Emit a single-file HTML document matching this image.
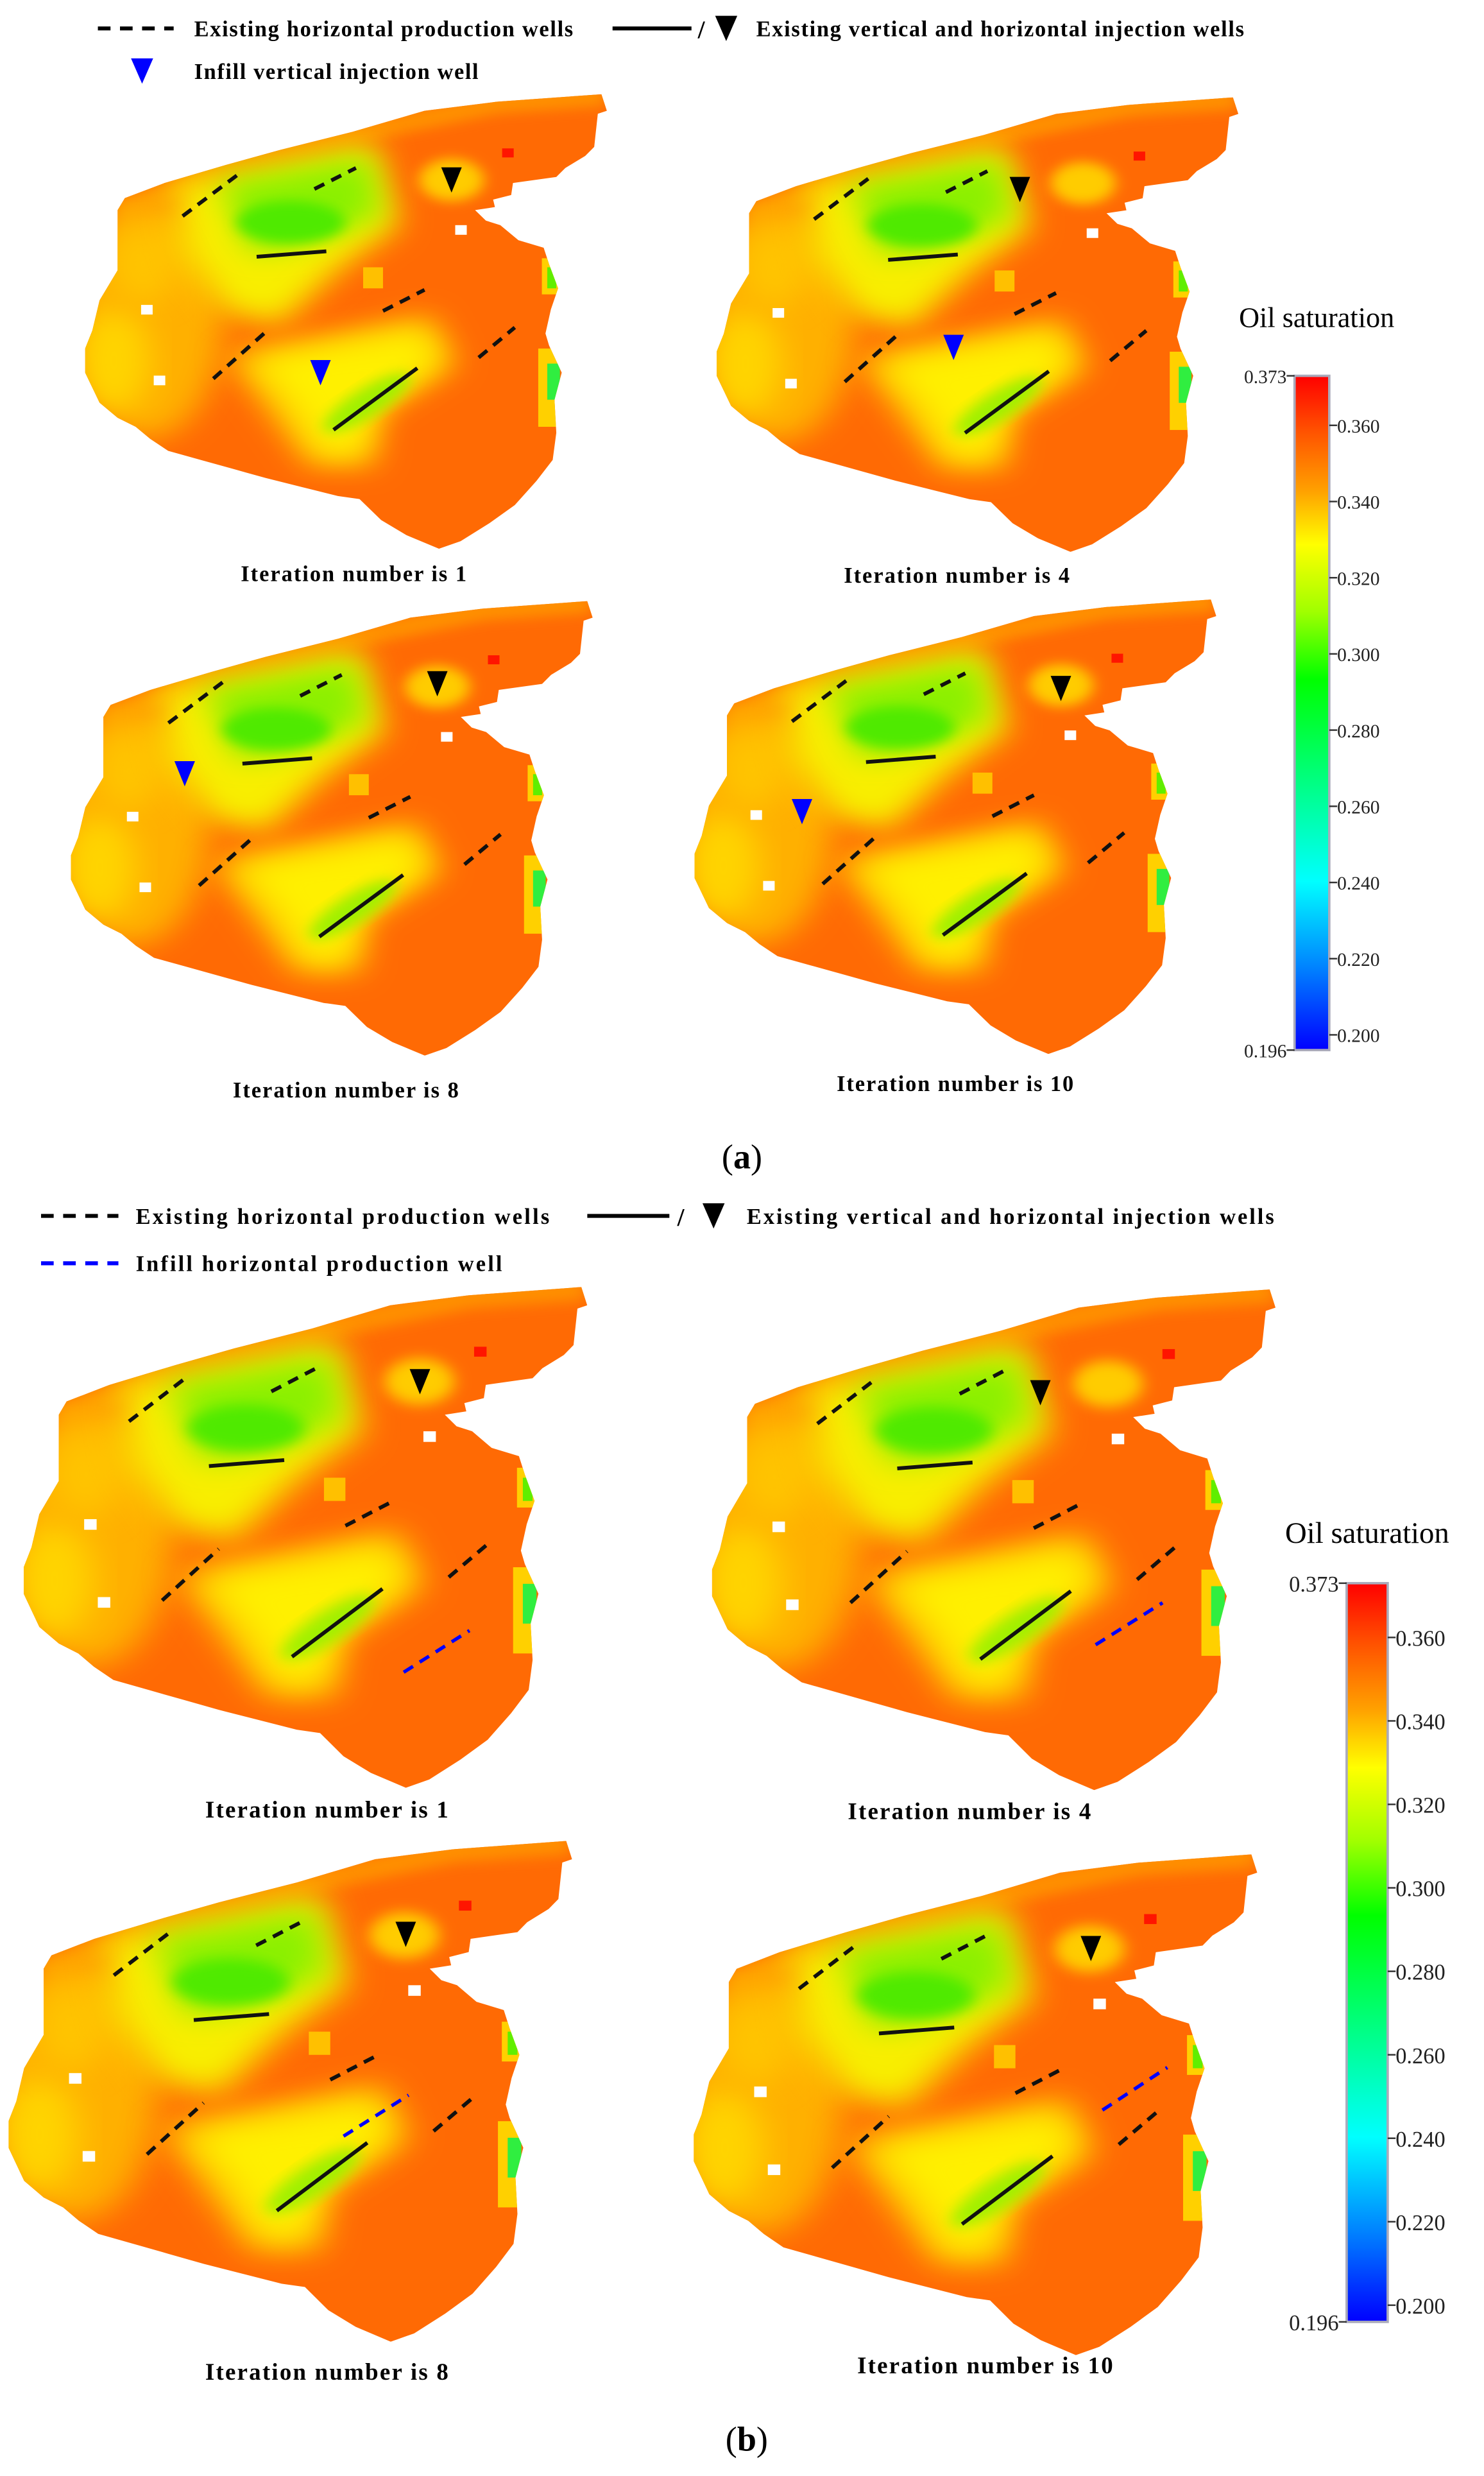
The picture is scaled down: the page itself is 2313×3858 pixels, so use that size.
<!DOCTYPE html>
<html><head><meta charset="utf-8">
<style>
html,body{margin:0;padding:0;background:#fff;}
svg{display:block;}
text{font-family:"Liberation Serif",serif;}
</style></head>
<body>
<svg id="fig" xmlns="http://www.w3.org/2000/svg" width="2313" height="3858" viewBox="0 0 940 1568" preserveAspectRatio="none">
<defs>
  <clipPath id="fieldClip">
    <polygon points="1490,35 1505,90 1480,100 1470,210 1445,240 1390,280 1365,310 1245,330 1240,370 1190,385 1195,410 1140,420 1170,455 1210,470 1260,520 1330,545 1345,600 1370,680 1350,750 1335,830 1345,870 1380,960 1360,1050 1365,1160 1355,1250 1310,1320 1250,1400 1180,1460 1100,1520 1040,1545 950,1500 880,1450 820,1380 760,1370 660,1340 560,1310 470,1280 380,1250 290,1220 240,1180 200,1140 150,1110 100,1060 60,960 60,880 80,820 100,720 150,620 150,420 170,380 280,330 450,270 600,220 800,160 1000,90 1200,60"/>
  </clipPath>
  <filter id="blur" x="-30%" y="-30%" width="160%" height="160%"><feGaussianBlur stdDeviation="45"/></filter>
  <filter id="blur2" x="-30%" y="-30%" width="160%" height="160%"><feGaussianBlur stdDeviation="20"/></filter>
  <g id="field">
    <g clip-path="url(#fieldClip)">
      <rect x="0" y="0" width="1600" height="1600" fill="#ff6a04"/>
      <path d="M150,430 L450,275 L800,165 L1200,65 L1500,40" fill="none" stroke="#ff9000" stroke-width="70" filter="url(#blur2)"/>
      <ellipse cx="230" cy="780" rx="210" ry="400" fill="#ffb000" filter="url(#blur)"/>
      <ellipse cx="140" cy="920" rx="100" ry="170" fill="#ffd400" filter="url(#blur)"/>
      <ellipse cx="220" cy="600" rx="90" ry="130" fill="#ffc400" filter="url(#blur)"/>
      <polygon points="300,330 860,190 930,470 760,620 600,800 450,760 330,560" fill="#f8ee00" filter="url(#blur)"/>
      <polygon points="430,330 850,240 880,440 640,540 520,560" fill="#8cf000" filter="url(#blur)"/>
      <ellipse cx="630" cy="460" rx="150" ry="70" fill="#50ea00" filter="url(#blur2)"/>
      <ellipse cx="1075" cy="320" rx="90" ry="70" fill="#ffcc00" filter="url(#blur2)"/>
      <polygon points="450,900 1020,770 1090,930 880,1090 860,1270 680,1270 550,1060" fill="#ffc800" filter="url(#blur)"/>
      <polygon points="520,920 990,820 1040,930 860,1070 820,1230 720,1230 620,1040" fill="#fff000" filter="url(#blur)"/>
      <ellipse cx="840" cy="1060" rx="150" ry="45" transform="rotate(-38 840 1060)" fill="#a0f000" filter="url(#blur2)"/>
      <rect x="1325" y="580" width="45" height="120" fill="#ffd000"/>
      <rect x="1340" y="610" width="25" height="70" fill="#60ee00"/>
      <rect x="1315" y="880" width="55" height="260" fill="#ffd000"/>
      <rect x="1340" y="930" width="35" height="120" fill="#30ee40"/>
      <rect x="830" y="610" width="55" height="70" fill="#ffc000"/>
      <rect x="215" y="735" width="32" height="32" fill="#fff"/>
      <rect x="250" y="970" width="32" height="32" fill="#fff"/>
      <rect x="1085" y="470" width="32" height="32" fill="#fff"/>
      <rect x="1215" y="215" width="32" height="30" fill="#ff1500"/>
    </g>
  </g>
  <linearGradient id="cbGrad" x1="0" y1="0" x2="0" y2="1">
    <stop offset="0" stop-color="#ff0000"/>
    <stop offset="0.08" stop-color="#ff5000"/>
    <stop offset="0.17" stop-color="#ffa000"/>
    <stop offset="0.25" stop-color="#ffff00"/>
    <stop offset="0.35" stop-color="#a0ff00"/>
    <stop offset="0.45" stop-color="#00ff00"/>
    <stop offset="0.6" stop-color="#00ff80"/>
    <stop offset="0.75" stop-color="#00ffff"/>
    <stop offset="0.88" stop-color="#0080ff"/>
    <stop offset="1" stop-color="#0000ff"/>
  </linearGradient>
</defs>

<g>
  <line x1="62" y1="18" x2="110" y2="18" stroke="#000" stroke-width="2.5" stroke-dasharray="8,6"/>
  <text x="123" y="23" font-size="14" font-weight="bold" textLength="240">Existing horizontal production wells</text>
  <line x1="388" y1="18" x2="438" y2="18" stroke="#000" stroke-width="2.5"/>
  <text x="442" y="24" font-size="16" font-weight="bold">/</text>
  <polygon points="453,10 467,10 460,26" fill="#000"/>
  <text x="479" y="23" font-size="14" font-weight="bold" textLength="309">Existing vertical and horizontal injection wells</text>
  <polygon points="83,37 97,37 90,53" fill="#0000ff"/>
  <text x="123" y="50" font-size="14" font-weight="bold" textLength="180">Infill vertical injection well</text>
</g>

<g>
  <line x1="26" y1="770" x2="75" y2="770" stroke="#000" stroke-width="2.5" stroke-dasharray="8,6"/>
  <text x="86" y="775" font-size="14" font-weight="bold" textLength="262">Existing horizontal production wells</text>
  <line x1="372" y1="770" x2="424" y2="770" stroke="#000" stroke-width="2.5"/>
  <text x="429" y="776" font-size="16" font-weight="bold">/</text>
  <polygon points="445,762 459,762 452,778" fill="#000"/>
  <text x="473" y="775" font-size="14" font-weight="bold" textLength="334">Existing vertical and horizontal injection wells</text>
  <line x1="26" y1="800" x2="75" y2="800" stroke="#0000ff" stroke-width="2.5" stroke-dasharray="8,6"/>
  <text x="86" y="805" font-size="14" font-weight="bold" textLength="232">Infill horizontal production well</text>
</g>

<g id="maps"></g>

<g font-size="14" font-weight="bold" text-anchor="middle">
  <text x="224" y="368" textLength="143">Iteration number is 1</text>
  <text x="606" y="369" textLength="143">Iteration number is 4</text>
  <text x="219" y="695" textLength="143">Iteration number is 8</text>
  <text x="605" y="691" textLength="150">Iteration number is 10</text>
  <text x="207" y="1151" font-size="15" textLength="154">Iteration number is 1</text>
  <text x="614" y="1152" font-size="15" textLength="154">Iteration number is 4</text>
  <text x="207" y="1507" font-size="15" textLength="154">Iteration number is 8</text>
  <text x="624" y="1503" font-size="15" textLength="162">Iteration number is 10</text>
</g>
<text x="470" y="740" font-size="22" text-anchor="middle">(<tspan font-weight="bold">a</tspan>)</text>
<text x="473" y="1552" font-size="22" text-anchor="middle">(<tspan font-weight="bold">b</tspan>)</text>

<g id="cbars"></g>
</svg>

<script>
const cbTickValues = [0.360, 0.340, 0.320, 0.300, 0.280, 0.260, 0.240, 0.220, 0.200];
const cbTickLabels = ["0.360","0.340","0.320","0.300","0.280","0.260","0.240","0.220","0.200"];
const cbMax = 0.373;
const cbMin = 0.196;
const cbEndLabels = ["0.373","0.196"];

const dashedWells = [[330,440,480,305],[695,350,810,280],[885,755,1000,685],[415,980,560,825],[1150,910,1250,810]];
const solidWells = [[535,575,728,557],[748,1150,980,945]];

const NS = "http://www.w3.org/2000/svg";
function mk(tag, attrs, parent){
  const e = document.createElementNS(NS, tag);
  for (const k in attrs) e.setAttribute(k, attrs[k]);
  parent.appendChild(e);
  return e;
}

const maps = [
  {id:"a1", ox:40.2, oy:53, sx:0.2287, sy:0.1906, black:[286,114], blueTri:[203,236]},
  {id:"a2", ox:440.2, oy:55, sx:0.2287, sy:0.1906, black:[646,120], blueTri:[604,220]},
  {id:"a3", ox:31.2, oy:374, sx:0.2287, sy:0.1906, black:[277,433], blueTri:[117,490]},
  {id:"a4", ox:426.2, oy:373, sx:0.2287, sy:0.1906, black:[672,436], blueTri:[508,514]},
  {id:"b1", ox:0.2, oy:807.7, sx:0.247, sy:0.210, black:[266,875], blueLine:[255.7,1059,297.4,1032.6]},
  {id:"b2", ox:436.2, oy:809.2, sx:0.247, sy:0.210, black:[659,882], blueLine:[694,1041.6,736.4,1015]},
  {id:"b3", ox:-9.4, oy:1158.5, sx:0.247, sy:0.210, black:[257,1225], blueLine:[217.6,1352.8,258.8,1326.8]},
  {id:"b4", ox:424.6, oy:1167, sx:0.247, sy:0.210, black:[691,1234], blueLine:[698.3,1336.3,739.4,1309.3]}
];

const mapsG = document.getElementById("maps");
maps.forEach(m => {
  const g = mk("g", {}, mapsG);
  
  
  const u = mk("use", {href:"#field", transform:`translate(${m.ox},${m.oy}) scale(${m.sx},${m.sy})`}, g);
  
  
  const X = v => m.ox + v*m.sx, Y = v => m.oy + v*m.sy;
  dashedWells.forEach(w => {
    const l = mk("line", {x1:X(w[0]), y1:Y(w[1]), x2:X(w[2]), y2:Y(w[3]), stroke:"#111", "stroke-width":2.4, "stroke-dasharray":"7,5"}, g);
    
    
  });
  solidWells.forEach(w => {
    const l = mk("line", {x1:X(w[0]), y1:Y(w[1]), x2:X(w[2]), y2:Y(w[3]), stroke:"#111", "stroke-width":2.4}, g);
    
    
  });
  const b = m.black;
  const t = mk("polygon", {points:`${b[0]-6.5},${b[1]-8} ${b[0]+6.5},${b[1]-8} ${b[0]},${b[1]+8}`, fill:"#000"}, g);
  
  
  if (m.blueTri){
    const c = m.blueTri;
    const bt = mk("polygon", {points:`${c[0]-6.5},${c[1]-8} ${c[0]+6.5},${c[1]-8} ${c[0]},${c[1]+8}`, fill:"#0000ff"}, g);
    
    
  }
  if (m.blueLine){
    const w = m.blueLine;
    const bl = mk("line", {x1:w[0], y1:w[1], x2:w[2], y2:w[3], stroke:"#0000ff", "stroke-width":2.2, "stroke-dasharray":"7,5"}, g);
    
    
  }
});

const cbars = [
  {id:"a", x:820, w:22, top:238, bot:665, title:[834,207], fs:12, tfs:18},
  {id:"b", x:853, w:26, top:1002.6, bot:1470.4, title:[866,977], fs:14, tfs:19}
];
const cbG = document.getElementById("cbars");
cbars.forEach(c => {
  const g = mk("g", {}, cbG);
  
  
  const yS = v => c.top + (cbMax - v)/(cbMax - cbMin)*(c.bot - c.top);
  const r = mk("rect", {x:c.x, y:c.top, width:c.w, height:c.bot-c.top, fill:"url(#cbGrad)", stroke:"#aab", "stroke-width":1.5}, g);
  
  
  const tt = mk("text", {x:c.title[0], y:c.title[1], "font-size":c.tfs, "text-anchor":"middle"}, g);
  tt.textContent = "Oil saturation";
  
  
  cbTickValues.forEach((v,i) => {
    const y = yS(v);
    const tk = mk("line", {x1:c.x+c.w, y1:y, x2:c.x+c.w+5, y2:y, stroke:"#333", "stroke-width":1}, g);
    
    
    const tl = mk("text", {x:c.x+c.w+5, y:y+c.fs*0.38, "font-size":c.fs, fill:"#222", "font-family":"Liberation Sans, sans-serif"}, g);
    tl.textContent = cbTickLabels[i];
    
    
  });
  [cbMax, cbMin].forEach((v,i) => {
    const y = yS(v);
    const tk = mk("line", {x1:c.x-5, y1:y, x2:c.x, y2:y, stroke:"#333", "stroke-width":1}, g);
    
    
    const tl = mk("text", {x:c.x-5, y:y+c.fs*0.38, "font-size":c.fs, fill:"#222", "text-anchor":"end", "font-family":"Liberation Sans, sans-serif"}, g);
    tl.textContent = cbEndLabels[i];
    
    
  });
});
</script>
</body></html>
